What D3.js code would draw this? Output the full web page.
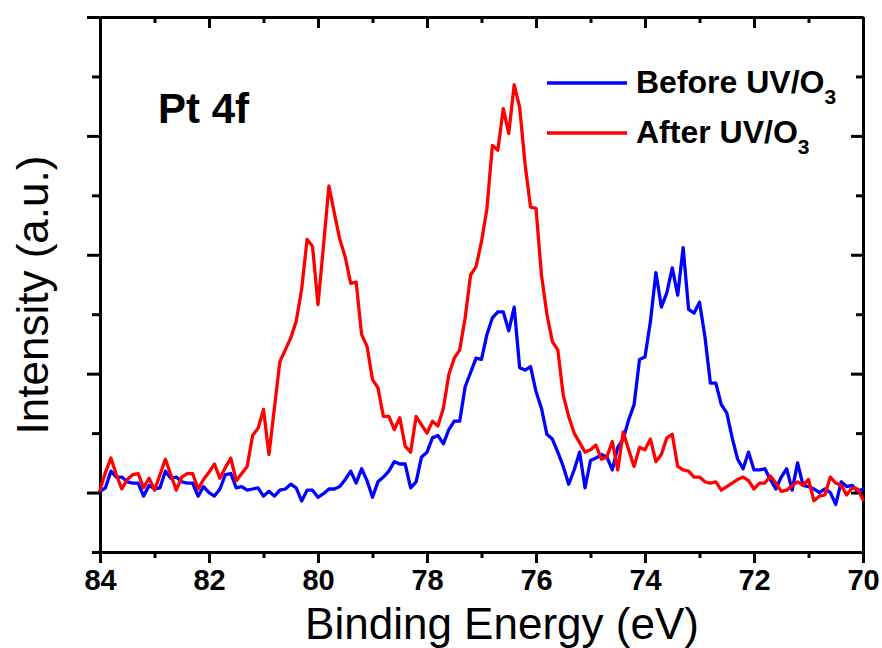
<!DOCTYPE html>
<html>
<head>
<meta charset="utf-8">
<script src="https://cdn.jsdelivr.net/npm/d3@7"></script>
<style>
  html, body { margin: 0; padding: 0; background: #fff; }
  svg { display: block; font-family: "Liberation Sans", Arial, sans-serif; }
</style>
</head>
<body>
<svg id="chart" width="882" height="648"></svg>
<script>
// Pt 4f XPS spectra, sampled every 0.1 eV from 84.0 eV down to 70.0 eV
const energyStart = 84.0;
const energyStep = 0.1;

// Intensity (a.u.) before UV/O3 treatment
const beforeUV = [
  10, 40, 180, 130, 130, 90, 80, 80, -30, 60,
  30, 40, 180, 120, 130, 90, 80, 80, -30, 50,
  0, -30, 30, 150, 160, 40, 50, 20, 30, 40,
  -30, 10, -30, 20, 30, 70, 40, -70, 20, 20,
  -40, -10, 30, 30, 50, 110, 180, 80, 200, 100,
  -40, 90, 130, 180, 260, 240, 240, 40, 90, 300,
  340, 460, 480, 410, 530, 600, 600, 890, 1010, 1130,
  1120, 1330, 1470, 1520, 1520, 1360, 1560, 1050, 1030, 1060,
  850, 710, 490, 450, 340, 220, 70, 190, 340, 40,
  270, 290, 320, 300, 190, 380, 450, 610, 740, 1120,
  1140, 1440, 1850, 1560, 1680, 1890, 1660, 2060, 1540, 1510,
  1600, 1310, 920, 920, 740, 670, 460, 280, 200, 340,
  190, 190, 200, 110, 30, 130, 200, 20, 250, 60,
  50, 30, 0, 30, 0, -100, 90, 50, 60, 10,
  30
];

// Intensity (a.u.) after UV/O3 treatment
const afterUV = [
  20, 170, 290, 150, 30, 110, 150, 160, 40, 120,
  20, 150, 280, 150, 20, 130, 160, 160, 30, 110,
  170, 240, 120, 210, 290, 100, 160, 220, 480, 540,
  700, 320, 710, 1100, 1200, 1300, 1440, 1710, 2130, 2070,
  1580, 2070, 2580, 2350, 2130, 1980, 1760, 1770, 1330, 1230,
  950, 880, 640, 640, 530, 630, 390, 340, 640, 570,
  500, 600, 560, 710, 990, 1130, 1200, 1470, 1830, 1900,
  2110, 2390, 2920, 2880, 3230, 3020, 3430, 3240, 2760, 2400,
  2390, 1830, 1500, 1270, 1200, 820, 640, 500, 420, 340,
  360, 400, 280, 300, 430, 190, 510, 360, 220, 380,
  360, 450, 260, 320, 460, 490, 220, 190, 180, 130,
  130, 90, 80, 90, 20, 50, 80, 110, 130, 100,
  30, 80, 80, 140, 80, 10, 20, 60, 90, 60,
  110, -70, -30, -20, 130, 80, 60, -20, 40, 30,
  -60
];

const xMajorTicks = [84, 82, 80, 78, 76, 74, 72, 70];
const xMinorTicks = [83, 81, 79, 77, 75, 73, 71];
const yMajorTicks = [0, 1000, 2000, 3000, 4000];
const yMinorTicks = [-500, 500, 1500, 2500, 3500];

const seriesInfo = [
  { name: "Before UV/O", sub: "3", values: beforeUV, color: "#0000ff" },
  { name: "After UV/O", sub: "3", values: afterUV, color: "#ff0000" }
];

const svg = d3.select("#chart");
const plot = { left: 100, right: 863, top: 17, bottom: 552 };

const x = d3.scaleLinear().domain([84, 70]).range([plot.left, plot.right]);
const y = d3.scaleLinear().domain([-500, 4000]).range([plot.bottom, plot.top]);

// axis frame with major and minor ticks on all four sides
function styleAxis(g) {
  g.select(".domain").attr("stroke", "#000").attr("stroke-width", 3);
  g.selectAll(".tick line").attr("stroke", "#000").attr("stroke-width", 3);
}

function addAxis(axisFn, scale, values, size, transform, withLabels) {
  const a = axisFn(scale).tickValues(values).tickSize(size).tickSizeOuter(0).tickPadding(6);
  if (!withLabels) a.tickFormat("");
  const g = svg.append("g").attr("transform", transform).call(a);
  styleAxis(g);
  return g;
}

// bottom
const xb = addAxis(d3.axisBottom, x, xMajorTicks, 11, `translate(0,${plot.bottom})`, true);
xb.selectAll(".tick text")
  .attr("font-size", 29).attr("font-weight", "bold").attr("fill", "#000")
  .attr("font-family", "Liberation Sans, Arial, sans-serif");
addAxis(d3.axisBottom, x, xMinorTicks, 6, `translate(0,${plot.bottom})`, false);
// top
addAxis(d3.axisTop, x, xMajorTicks, -11, `translate(0,${plot.top})`, false);
addAxis(d3.axisTop, x, xMinorTicks, -6, `translate(0,${plot.top})`, false);
// left
addAxis(d3.axisLeft, y, yMajorTicks, 13, `translate(${plot.left},0)`, false);
addAxis(d3.axisLeft, y, yMinorTicks, 8, `translate(${plot.left},0)`, false);
// right
addAxis(d3.axisRight, y, yMajorTicks, -12, `translate(${plot.right},0)`, false);
addAxis(d3.axisRight, y, yMinorTicks, -7, `translate(${plot.right},0)`, false);

// spectra
const line = d3.line()
  .x((d, i) => x(energyStart - i * energyStep))
  .y(d => y(d));

svg.append("g").selectAll("path")
  .data(seriesInfo)
  .join("path")
  .attr("d", d => line(d.values))
  .attr("fill", "none")
  .attr("stroke", d => d.color)
  .attr("stroke-width", 3.3)
  .attr("stroke-linejoin", "round")
  .attr("stroke-linecap", "round");

// legend
const legend = svg.append("g");
seriesInfo.forEach((s, i) => {
  const ly = 83 + i * 50;
  legend.append("line")
    .attr("x1", 547).attr("x2", 627).attr("y1", ly).attr("y2", ly)
    .attr("stroke", s.color).attr("stroke-width", 3.3);
  const t = legend.append("text")
    .attr("x", 636).attr("y", ly + 10)
    .attr("font-size", 32).attr("font-weight", "bold").attr("fill", "#000");
  t.append("tspan").text(s.name);
  t.append("tspan").attr("dy", 11).attr("font-size", 21).text(s.sub);
});

// panel label
svg.append("text")
  .attr("x", 158).attr("y", 123)
  .attr("font-size", 42).attr("font-weight", "bold").attr("fill", "#000")
  .text("Pt 4f");

// axis titles
svg.append("text")
  .attr("x", 502).attr("y", 639)
  .attr("text-anchor", "middle")
  .attr("font-size", 44).attr("fill", "#000")
  .text("Binding Energy (eV)");

svg.append("text")
  .attr("transform", `translate(48,295) rotate(-90)`)
  .attr("text-anchor", "middle")
  .attr("font-size", 44).attr("fill", "#000")
  .text("Intensity (a.u.)");
</script>
</body>
</html>
